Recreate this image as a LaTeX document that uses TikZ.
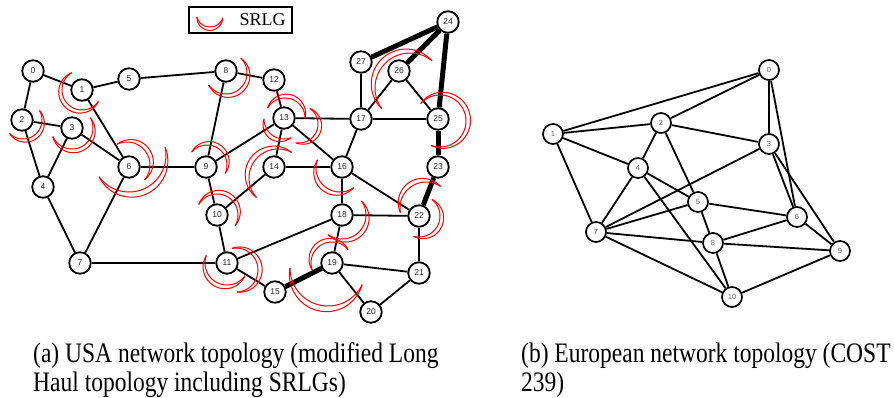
\documentclass[tikz,border=0pt]{standalone}
\usepackage{fontspec}
\setmainfont{Liberation Serif}
\newfontfamily\lsans{Liberation Sans}
\newcommand\srlg[5]{%
  \draw[srlgline] plot[domain=#4:#5,samples=50,smooth] ({#1+#3*cos(\x)},{-#2+#3*sin(\x)});
  \draw[srlgline] plot[domain=#4:#5,samples=50,smooth] ({#1+(#3+(2+0.1*#3)*sin((\x-(#4))/((#5)-(#4))*180))*cos(\x)},{-#2+(#3+(2+0.1*#3)*sin((\x-(#4))/((#5)-(#4))*180))*sin(\x)});
}
\newcommand\captall[1]{\scalebox{1}[1.2]{#1}}
\begin{document}
\begin{tikzpicture}[x=1pt,y=1pt,
  lnode/.style={circle,draw=black,line width=1.8pt,fill=white,minimum size=21.5pt,inner sep=0pt,font=\lsans\fontsize{8.5}{9}\selectfont,text=black!85},
  rnode/.style={circle,draw=black,line width=1.7pt,fill=white,minimum size=20pt,inner sep=0pt,font=\lsans\fontsize{7.5}{8}\selectfont,text=black!60},
  edge/.style={line width=1.8pt},
  heavy/.style={line width=5pt},
  srlgline/.style={draw=red,line width=1pt},
  captxt/.style={anchor=base west,inner sep=0pt,font=\fontsize{23.5}{28}\selectfont}]
\useasboundingbox (0,0) rectangle (894,-397);
% ---- left graph nodes
\node[lnode] (a0) at (33,-71) {0};
\node[lnode] (a1) at (82,-90) {1};
\node[lnode] (a2) at (22,-120) {2};
\node[lnode] (a3) at (72,-128) {3};
\node[lnode] (a4) at (43,-187) {4};
\node[lnode] (a5) at (129,-79) {5};
\node[lnode] (a6) at (129,-167) {6};
\node[lnode] (a7) at (80,-263) {7};
\node[lnode] (a8) at (226,-71) {8};
\node[lnode] (a9) at (206,-167) {9};
\node[lnode] (a10) at (217,-215) {10};
\node[lnode] (a11) at (227,-263) {11};
\node[lnode] (a12) at (274,-80) {12};
\node[lnode] (a13) at (284,-118) {13};
\node[lnode] (a14) at (274,-167) {14};
\node[lnode] (a15) at (275,-292) {15};
\node[lnode] (a16) at (342,-167) {16};
\node[lnode] (a17) at (361,-119) {17};
\node[lnode] (a18) at (342,-215) {18};
\node[lnode] (a19) at (332,-263) {19};
\node[lnode] (a20) at (371,-312) {20};
\node[lnode] (a21) at (419,-273) {21};
\node[lnode] (a22) at (419,-216) {22};
\node[lnode] (a23) at (438,-167) {23};
\node[lnode] (a24) at (448,-22) {24};
\node[lnode] (a25) at (438,-119) {25};
\node[lnode] (a26) at (399,-71) {26};
\node[lnode] (a27) at (361,-62) {27};
% ---- left graph edges
\foreach \u/\v in {a0/a1,a0/a2,a2/a3,a2/a4,a3/a4,a1/a5,a1/a6,a3/a6,a6/a7,a4/a7,a7/a11,a6/a9,
  a5/a8,a8/a12,a8/a9,a12/a13,a9/a13,a9/a10,a10/a14,a13/a14,a13/a17,a13/a16,a14/a16,a10/a11,
  a11/a18,a11/a15,a19/a21,a19/a20,a20/a21,a21/a22,a18/a22,a18/a19,a16/a18,a16/a22,a16/a17,
  a17/a25,a17/a26,a17/a27,a26/a25}
  \draw[edge] (\u) -- (\v);
\foreach \u/\v in {a15/a19,a22/a23,a23/a25,a25/a24,a24/a26,a24/a27}
  \draw[heavy] (\u) -- (\v);
% ---- SRLGs
\srlg{82}{90}{20}{120}{325}
\srlg{23}{120}{19}{-135}{30}
\srlg{72}{128}{21}{-156}{29}
\srlg{127}{165}{23}{-40}{115}
\srlg{129}{155}{37}{-144}{12}
\srlg{226}{73}{21}{-145}{45}
\srlg{285}{118}{20}{0}{150}
\srlg{284}{119}{20}{180}{290}
\srlg{299}{124}{19}{-100}{55}
\srlg{207}{165}{20}{-25}{140}
\srlg{217}{215}{21}{-30}{150}
\srlg{278}{178}{29}{62}{222}
\srlg{340}{168}{24}{160}{305}
\srlg{342}{215}{24}{-125}{36}
\srlg{332}{263}{21}{40}{200}
\srlg{328}{268}{38}{180}{334}
\srlg{227}{263}{22}{160}{325}
\srlg{236}{270}{22}{-87}{100}
\srlg{426}{208}{26}{56}{190}
\srlg{419}{216}{21}{-105}{52}
\srlg{440}{121}{26}{-110}{138}
\srlg{410}{88}{35}{51}{216}
% ---- legend
\node[draw=black,line width=1.3pt,minimum width=103pt,minimum height=26pt,inner sep=0pt] (legend) at (240.5,-20) {};
\node[inner sep=0pt,font=\fontsize{18}{20}\selectfont] (legtxt) at ([xshift=-30pt]legend.east) {SRLG};
\srlg{210}{13.5}{13.5}{195}{341}
% ---- right graph nodes
\node[rnode] (b0) at (769,-70) {0};
\node[rnode] (b1) at (553,-134) {1};
\node[rnode] (b2) at (661,-123) {2};
\node[rnode] (b3) at (769,-144) {3};
\node[rnode] (b4) at (638,-168) {4};
\node[rnode] (b5) at (698,-202) {5};
\node[rnode] (b6) at (797,-217) {6};
\node[rnode] (b7) at (596,-232) {7};
\node[rnode] (b8) at (713,-243) {8};
\node[rnode] (b9) at (840,-251) {9};
\node[rnode] (b10) at (732,-297) {10};
\foreach \u/\v in {b0/b1,b0/b2,b0/b3,b0/b6,b1/b2,b1/b4,b1/b7,b2/b3,b2/b4,b2/b5,b3/b7,b3/b6,b3/b9,
  b4/b5,b4/b7,b4/b10,b5/b6,b5/b7,b5/b8,b6/b8,b6/b9,b7/b8,b7/b10,b8/b9,b8/b10,b9/b10}
  \draw[edge] (\u) -- (\v);
% ---- captions
\node[captxt] (capa1) at (33,-362) {\captall{(a) USA network topology (modified Long}};
\node[captxt] (capa2) at (33,-391) {\captall{Haul topology including SRLGs)}};
\node[captxt] (capb1) at (521,-362) {\captall{(b) European network topology (COST}};
\node[captxt] (capb2) at (521,-391) {\captall{239)}};
\end{tikzpicture}
\end{document}
